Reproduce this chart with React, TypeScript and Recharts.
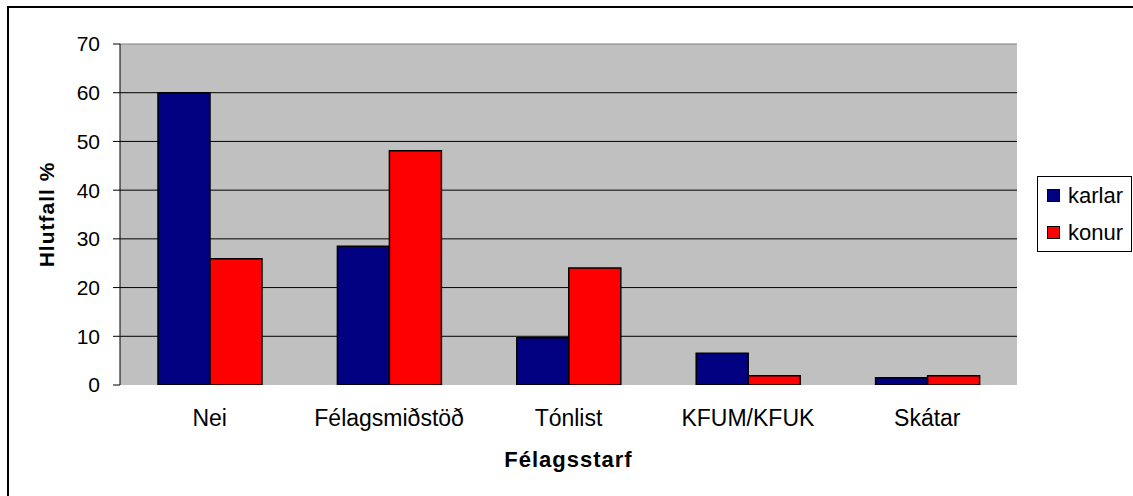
import React from 'react';
import { BarChart, Bar, XAxis, YAxis, CartesianGrid, Legend, ReferenceLine } from 'recharts';

const categories = ['Nei', 'Félagsmiðstöð', 'Tónlist', 'KFUM/KFUK', 'Skátar'];
const karlar = [60.0, 28.5, 9.7, 6.5, 1.5];
const konur = [25.9, 48.1, 24.0, 1.9, 1.9];
const yTicks = [0, 10, 20, 30, 40, 50, 60, 70];
const gridValues = [10, 20, 30, 40, 50, 60];
const edgeTicks = [0, 1, 2, 3, 4, 5];
const seriesNames = ['karlar', 'konur'];
const seriesColors = ['#000080', '#FF0000'];

const data = categories.map((name, i) => ({ name, karlar: karlar[i], konur: konur[i] }));

const FONT = '"Liberation Sans", Arial, sans-serif';

function LegendBox() {
  return (
    <div
      style={{
        border: '1px solid #000',
        background: '#fff',
        width: 93,
        height: 74,
        boxSizing: 'content-box',
        fontFamily: FONT,
        fontSize: 22,
        color: '#000',
      }}
    >
      {seriesNames.map((n, i) => (
        <div key={n} style={{ display: 'flex', alignItems: 'center', height: 37 }}>
          <span
            style={{
              display: 'inline-block',
              width: 11,
              height: 11,
              border: '1px solid #000',
              background: seriesColors[i],
              marginLeft: 9,
              marginRight: 8,
            }}
          />
          <span style={{ lineHeight: '22px' }}>{n}</span>
        </div>
      ))}
    </div>
  );
}

export default function App() {
  return (
    <div style={{ position: 'absolute', left: 0, top: 0, width: 1133, height: 496, overflow: 'hidden', background: '#fff' }}>
      <div
        style={{
          position: 'absolute',
          left: 7,
          top: 6,
          width: 1300,
          height: 700,
          border: '2px solid #000',
          boxSizing: 'border-box',
        }}
      />
      <div style={{ position: 'absolute', left: 0, top: 0 }}>
        <BarChart
          width={1133}
          height={496}
          data={data}
          margin={{ top: 44, right: 116, bottom: 0, left: 0 }}
          barGap={0}
          style={{ fontFamily: FONT }}
        >
          <CartesianGrid
            xAxisId="cat"
            yAxisId="left"
            vertical={false}
            stroke="#000"
            fill="#C0C0C0"
            horizontalValues={gridValues}
          />
          <ReferenceLine xAxisId="cat" yAxisId="left" y={70} stroke="#808080" />
          <XAxis
            xAxisId="edge"
            type="number"
            domain={[0, 5]}
            ticks={edgeTicks}
            allowDataOverflow
            height={0}
            tick={false}
            tickSize={7}
            tickLine={{ stroke: '#000' }}
            axisLine={{ stroke: '#000' }}
          />
          <XAxis
            xAxisId="cat"
            dataKey="name"
            height={111}
            tickLine={false}
            axisLine={false}
            tickSize={0}
            tickMargin={25}
            interval={0}
            tick={{ fill: '#000', fontSize: 23, fontFamily: FONT }}
            label={{
              value: 'Félagsstarf',
              position: 'insideBottom',
              offset: 29,
              fontWeight: 'bold',
              fontSize: 22,
              fill: '#000',
              style: { letterSpacing: 1, fontFamily: FONT, fontWeight: 'bold', fontSize: 22 },
            }}
          />
          <YAxis
            yAxisId="left"
            width={120}
            domain={[0, 70]}
            ticks={yTicks}
            interval={0}
            allowDataOverflow
            tickSize={7}
            tickMargin={13}
            axisLine={{ stroke: '#000' }}
            tickLine={{ stroke: '#000' }}
            tick={{ fill: '#000', fontSize: 21, fontFamily: FONT }}
            label={{
              value: 'Hlutfall %',
              angle: -90,
              position: 'insideLeft',
              offset: 47,
              fontWeight: 'bold',
              fontSize: 21,
              fill: '#000',
              style: { textAnchor: 'middle', letterSpacing: 1, fontFamily: FONT, fontWeight: 'bold', fontSize: 21 },
            }}
          />
          <YAxis
            yAxisId="right"
            orientation="right"
            width={0}
            domain={[0, 70]}
            tick={false}
            tickLine={false}
            axisLine={{ stroke: '#808080' }}
          />
          <Bar
            xAxisId="cat"
            yAxisId="left"
            dataKey="karlar"
            name="karlar"
            fill={seriesColors[0]}
            stroke="#000"
            strokeWidth={1.5}
            barSize={52}
            isAnimationActive={false}
          />
          <Bar
            xAxisId="cat"
            yAxisId="left"
            dataKey="konur"
            name="konur"
            fill={seriesColors[1]}
            stroke="#000"
            strokeWidth={1.5}
            barSize={52}
            isAnimationActive={false}
          />
          <Legend
            layout="vertical"
            align="center"
            verticalAlign="middle"
            content={() => <LegendBox />}
            wrapperStyle={{ left: 1037, top: 176, width: 'auto', height: 'auto' }}
          />
        </BarChart>
      </div>
    </div>
  );
}
